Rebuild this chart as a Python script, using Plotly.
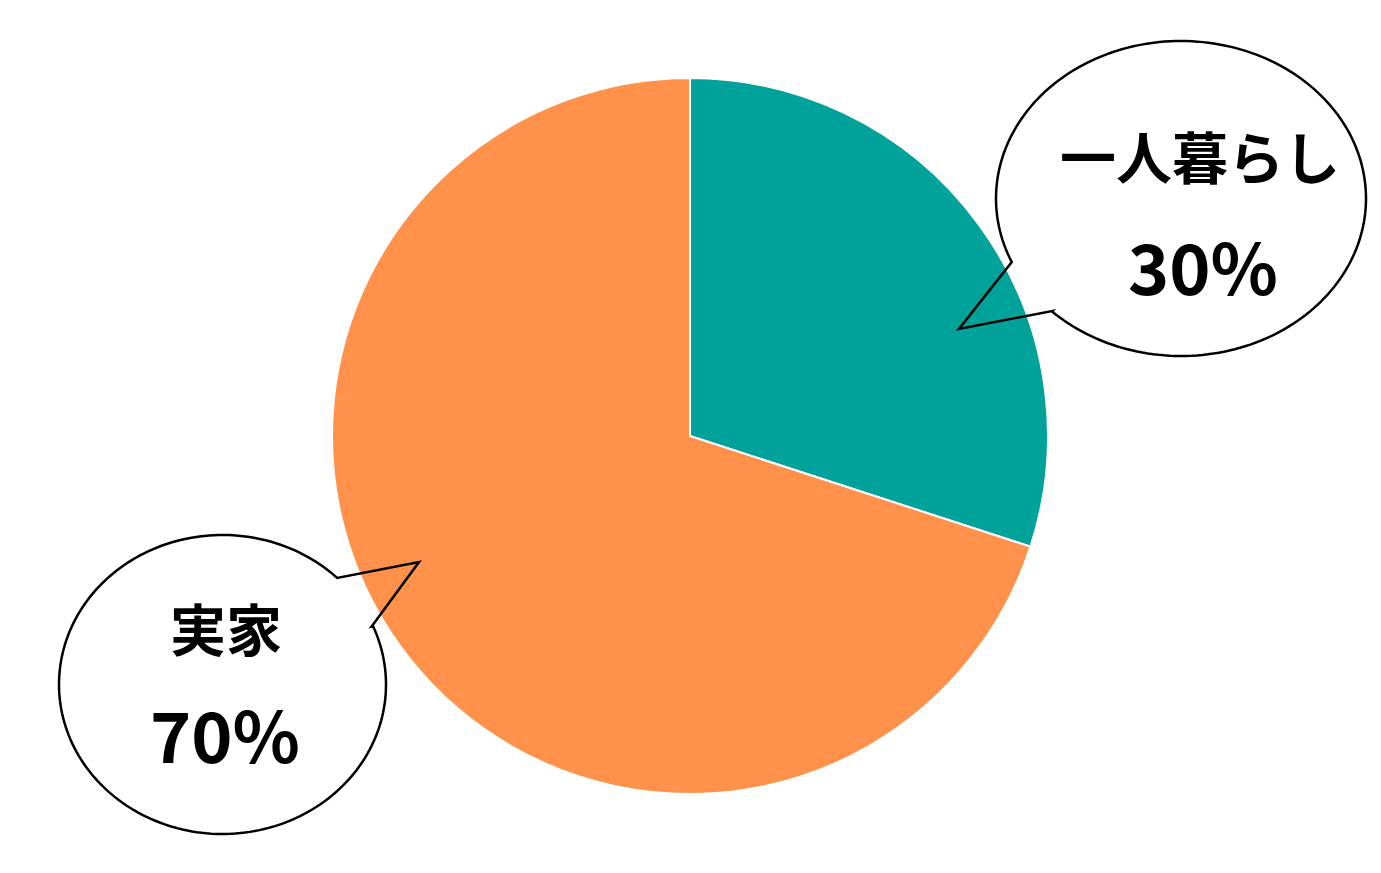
import numpy as np
import plotly.graph_objects as go

# ---- data ----
labels = ["一人暮らし", "実家"]
values = [30, 70]
colors = ["#00A29A", "#FF914A"]

PAGE_W, PAGE_H = 1381, 873
OFF = 8  # default body margin of the page
W, H = PAGE_W - 2 * OFF, PAGE_H - 2 * OFF
cx, cy, r = 690, 436, 358  # in page pixels


def px(x):
    return (x - OFF) / W


def py(y):
    return 1 - (y - OFF) / H


fig = go.Figure()
fig.add_trace(go.Pie(
    labels=labels, values=values, sort=False, direction="clockwise", rotation=0,
    marker=dict(colors=colors, line=dict(color="white", width=2)),
    textinfo="none", hoverinfo="label+percent", showlegend=False,
    domain=dict(x=[px(cx - r), px(cx + r)], y=[py(cy + r), py(cy - r)]),
))


def bubble(ecx, ecy, rx, ry, p1, tip, p2):
    a1 = np.arctan2((p1[1] - ecy) / ry, (p1[0] - ecx) / rx)
    a2 = np.arctan2((p2[1] - ecy) / ry, (p2[0] - ecx) / rx)
    d = (a1 - a2) % (2 * np.pi)
    if d < np.pi:
        d = d - 2 * np.pi
    ts = a2 + np.linspace(0, d, 200)
    pts = [(ecx + rx * np.cos(t), ecy + ry * np.sin(t)) for t in ts]
    path = "M {:.2f},{:.2f} ".format(*pts[0])
    path += " ".join("L {:.2f},{:.2f}".format(x, y) for x, y in pts[1:])
    path += " L {:.2f},{:.2f} L {:.2f},{:.2f} Z".format(tip[0], tip[1], p2[0], p2[1])
    return dict(type="path", xref="x", yref="y", path=path,
                line=dict(color="black", width=2.5), fillcolor="rgba(0,0,0,0)", layer="above")


shapes = [
    bubble(1181, 198.5, 185, 157.5, (1012, 262), (959, 329), (1052, 311)),
    bubble(222.5, 684.5, 163.5, 149.5, (336, 579), (419, 562), (372, 626)),
]

font_family = "Noto Sans CJK JP"
label_pos = [(1200, 154), (226, 626)]
pct_pos = [(1203, 264), (225, 732)]
annotations = []
for lab, v, (lx, ly), (qx, qy) in zip(labels, values, label_pos, pct_pos):
    annotations.append(dict(x=lx, y=ly, xref="x", yref="y", text="<b>%s</b>" % lab, showarrow=False,
                            font=dict(family=font_family, size=56, color="black"),
                            xanchor="center", yanchor="middle"))
    annotations.append(dict(x=qx, y=qy, xref="x", yref="y", text="<b>%d%%</b>" % v, showarrow=False,
                            font=dict(family=font_family, size=70, color="black"),
                            xanchor="center", yanchor="middle"))

fig.update_layout(
    width=W, height=H, margin=dict(l=0, r=0, t=0, b=0),
    paper_bgcolor="white", plot_bgcolor="rgba(0,0,0,0)",
    xaxis=dict(range=[OFF, OFF + W], visible=False, domain=[0, 1], fixedrange=True),
    yaxis=dict(range=[OFF + H, OFF], visible=False, domain=[0, 1], fixedrange=True),
    shapes=shapes, annotations=annotations,
)

fig.write_html("out.html")
